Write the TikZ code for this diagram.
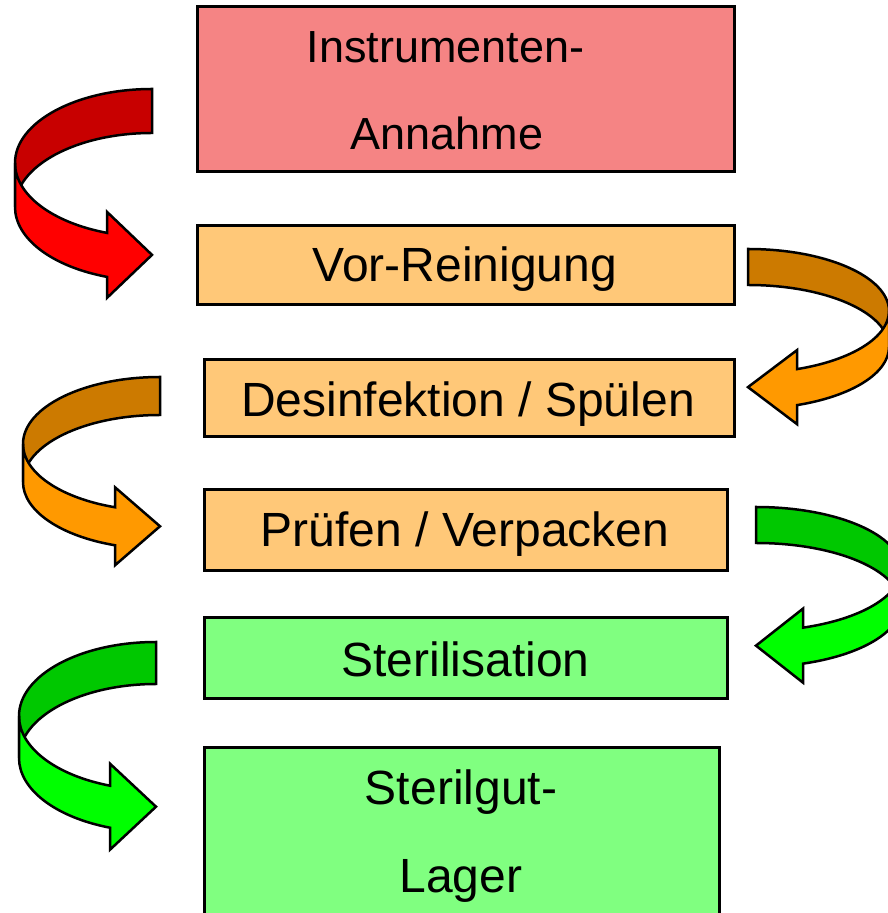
\documentclass[tikz,border=0pt]{standalone}
\usepackage{fontspec}
\setmainfont{Liberation Sans}
\definecolor{boxred}{HTML}{F58484}
\definecolor{boxorange}{HTML}{FFC878}
\definecolor{boxgreen}{HTML}{80FF80}
\definecolor{darkred}{HTML}{C80000}
\definecolor{lightred}{HTML}{FF0000}
\definecolor{darkorange}{HTML}{CC7A00}
\definecolor{lightorange}{HTML}{FF9900}
\definecolor{darkgreen}{HTML}{00C800}
\definecolor{lightgreen}{HTML}{00FF00}
% curved ribbon arrow turning to the right (drawn on the left side)
\newcommand\curvL[9]{%
 \filldraw[arrline, fill=#8] (#1,#2+#4) arc[start angle=90,end angle=180,x radius=#3pt,y radius=#4pt] -- ++(0,-#5) arc[start angle=180,end angle=90,x radius=#3pt,y radius=#4pt] -- cycle;
 \filldraw[arrline, fill=#9] (#1-#3,#2) arc[start angle=180,end angle={180+acos(#6/#3)},x radius=#3pt,y radius=#4pt] -- ++(0,#7-#5/2) -- ++(#6,-#7) -- ++(-#6,-#7) -- ++(0,#7-#5/2) arc[start angle={180+acos(#6/#3)},end angle=180,x radius=#3pt,y radius=#4pt] -- cycle;}
% curved ribbon arrow turning to the left (drawn on the right side)
\newcommand\curvR[9]{%
 \filldraw[arrline, fill=#8] (#1,#2+#4) arc[start angle=90,end angle=0,x radius=#3pt,y radius=#4pt] -- ++(0,-#5) arc[start angle=0,end angle=90,x radius=#3pt,y radius=#4pt] -- cycle;
 \filldraw[arrline, fill=#9] (#1+#3,#2) arc[start angle=0,end angle={-acos(#6/#3)},x radius=#3pt,y radius=#4pt] -- ++(0,#7-#5/2) -- ++(-#6,-#7) -- ++(#6,-#7) -- ++(0,#7-#5/2) arc[start angle={-acos(#6/#3)},end angle=0,x radius=#3pt,y radius=#4pt] -- cycle;}
\begin{document}
\begin{tikzpicture}[x=1pt,y=1pt,
  arrline/.style={draw=black, line width=2.5pt},
  stepbox/.style={draw=black, line width=3pt, inner sep=0pt, rectangle},
  lbl/.style={anchor=base, inner sep=0pt, font=\fontsize{48}{48}\selectfont},
  lblsmall/.style={anchor=base, inner sep=0pt, font=\fontsize{45}{45}\selectfont}]
\useasboundingbox (0,0) rectangle (888,913);
\clip (0,0) rectangle (888,913);
% boxes
\node[stepbox, fill=boxred, minimum width=537pt, minimum height=165pt] (b1) at (465.5,823.5) {};
\node[stepbox, fill=boxorange, minimum width=537pt, minimum height=79pt] (b2) at (465.5,647.5) {};
\node[stepbox, fill=boxorange, minimum width=530pt, minimum height=77pt] (b3) at (469,514.5) {};
\node[stepbox, fill=boxorange, minimum width=523pt, minimum height=81pt] (b4) at (465.5,382.5) {};
\node[stepbox, fill=boxgreen, minimum width=523pt, minimum height=81pt] (b5) at (465.5,254.5) {};
\node[stepbox, fill=boxgreen, minimum width=515pt, minimum height=185pt] (b6) at (461.5,72.5) {};
% texts
\node[lblsmall] (t1a) at (445.5,850) {Instrumenten-};
\node[lblsmall] (t1b) at (447,763) {Annahme};
\node[lbl] (t2) at (465,631) {Vor-Reinigung};
\node[lbl] (t3) at (468,496) {Desinfektion / Spülen};
\node[lbl] (t4) at (465,366) {Prüfen / Verpacken};
\node[lbl] (t5) at (465.5,236) {Sterilisation};
\node[lbl] (t6a) at (461,108) {Sterilgut-};
\node[lbl] (t6b) at (461,20) {Lager};
% curved arrows
\curvL{152}{750}{137}{74}{44}{45}{43}{darkred}{lightred}
\curvR{748}{602}{141}{62}{36}{49}{37}{darkorange}{lightorange}
\curvL{160}{469}{137}{67}{38}{45}{39}{darkorange}{lightorange}
\curvR{756}{344}{145}{62}{36}{47}{37}{darkgreen}{lightgreen}
\curvL{156}{197}{137}{74}{42}{46}{43}{darkgreen}{lightgreen}
\end{tikzpicture}
\end{document}
